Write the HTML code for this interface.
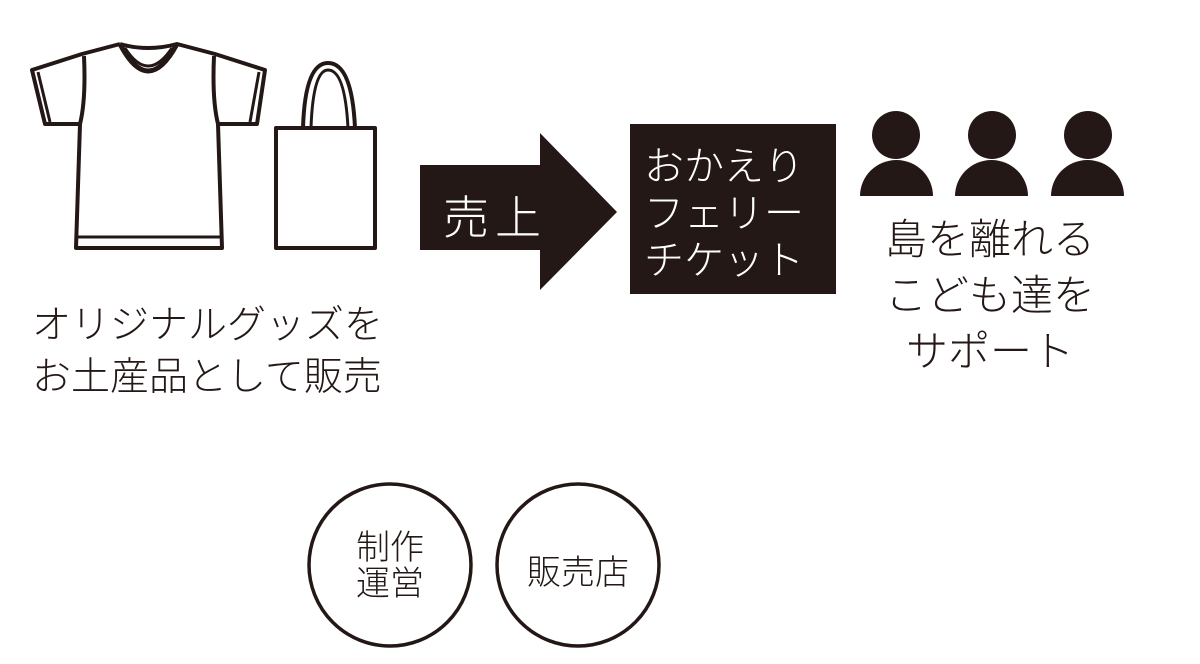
<!DOCTYPE html>
<html><head><meta charset="utf-8"><style>
body{margin:0;width:1200px;height:664px;background:#fff;overflow:hidden;position:relative;font-family:"Liberation Sans","Noto Sans CJK JP",sans-serif;color:#231815}
.t{position:absolute;white-space:nowrap;font-weight:300}
</style></head><body>
<svg width="1200" height="664" style="position:absolute;left:0;top:0">
<g fill="none" stroke="#231815" stroke-width="4" stroke-linejoin="round">
<path d="M120,44 Q148,52 177,44 L215,54 L265,70 L257,124 L218,124 Q212,100 214,56 M120,44 L82,54 L32,70 L45,124 L80,124 Q86,100 84,56"/>
<path d="M80,124 L76,248 L222,248 L218,124"/>
<path d="M77,237 L221,237" stroke-width="3"/>
<path d="M120,44 Q148,98 177,44" stroke-width="5"/>
<path d="M125,48 Q148,84 172,48" stroke-width="3"/>
<path d="M38,72 L50,122 M259,72 L250,122" stroke-width="3"/>
<rect x="276" y="128" width="99" height="120"/>
<path d="M303,128 Q305,63 328,63 Q352,63 355,128"/>
<path d="M311,128 Q313,70 328,70 Q345,70 348,128" stroke-width="3"/>
<circle cx="390" cy="565" r="81" stroke-width="3.5"/>
<circle cx="578" cy="565" r="81" stroke-width="3.5"/>
</g>
<g fill="#231815">
<path d="M420,165 L540,165 L540,133 L617,212 L540,290 L540,250 L420,250 Z"/>
<rect x="630" y="124" width="206" height="170"/>
<circle cx="896" cy="135" r="24"/><path d="M860,196 A36.5,36 0 0 1 933,196 Z"/>
<circle cx="992" cy="135" r="24"/><path d="M955,196 A36.5,36 0 0 1 1028,196 Z"/>
<circle cx="1088" cy="135" r="24"/><path d="M1051,196 A36.5,36 0 0 1 1124,196 Z"/>
</g>
</svg>
<div class="t" style="left:443px;top:182px;font-size:46px;color:#fff;letter-spacing:6px">売上</div>
<div class="t" style="left:644px;top:144px;font-size:40px;line-height:47px;color:#fff">おかえり<br>フェリー<br>チケット</div>
<div class="t" style="left:870px;top:212px;width:240px;text-align:center;font-size:42px;line-height:56px">島を離れる<br>こども達を<br>サポート</div>
<div class="t" style="left:32px;top:300px;font-size:39px;line-height:52px">オリジナルグッズを<br>お土産品として販売</div>
<div class="t" style="left:340px;top:530px;width:100px;text-align:center;font-size:34px;line-height:36px">制作<br>運営</div>
<div class="t" style="left:518px;top:545px;width:120px;text-align:center;font-size:34px">販売店</div>
</body></html>
